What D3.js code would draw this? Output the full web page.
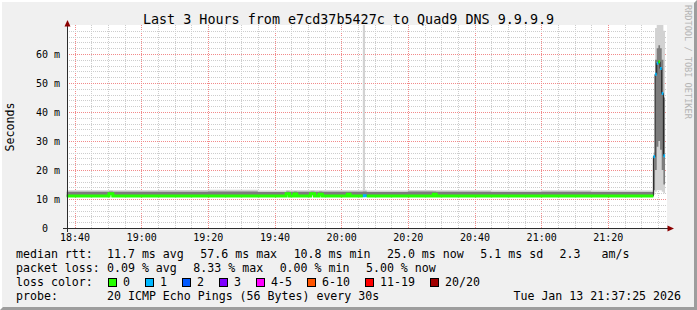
<!DOCTYPE html>
<html>
<head>
<meta charset="utf-8">
<script src="https://cdn.jsdelivr.net/npm/d3@7"></script>
<style>
html, body { margin: 0; padding: 0; background: #f0f0f0; }
svg { display: block; }
text { font-family: "DejaVu Sans Mono", monospace; fill: #000; white-space: pre; }
</style>
</head>
<body>
<div id="chart"></div>
<script>
// each step holds from its time until the next one, the last ends at endTime
const stepTimes = ["18:37:40", "18:50:20", "18:51:30", "19:05:00", "19:20:00", "19:35:00",
    "19:43:30", "19:44:30", "19:45:50", "19:46:40", "19:50:50", "19:52:00", "19:53:20", "19:54:20",
    "20:01:50", "20:02:40", "20:06:30", "20:07:10", "20:07:40", "20:20:00", "20:27:40", "20:28:30",
    "20:45:00", "21:00:00", "21:15:00",
    "21:33:40", "21:34:10", "21:34:40", "21:35:10", "21:35:40", "21:36:10", "21:36:40"];
const endTime = "21:37:10";
const median = [11.0, 11.8, 11.0, 11.0, 11.0, 11.0, 11.8, 11.0, 11.7, 11.0, 11.8, 11.0, 11.6, 11.0,
    11.6, 11.0, 11.1, 11.1, 11.0, 11.0, 11.6, 11.0, 11.0, 11.0, 11.0,
    24.6, 53.0, 56.8, 57.3, 55.0, 46.4, 24.9];
const lossCount = [0, 0, 0, 0, 0, 0, 0, 0, 0, 0, 0, 0, 0, 0,
    0, 0, 1, 1, 0, 0, 0, 0, 0, 0, 0,
    1, 1, 1, 0, 1, 1, 1];
const smokeMin = [10.8, 10.9, 10.8, 10.8, 10.8, 10.8, 10.9, 10.8, 10.9, 10.8, 10.9, 10.8, 10.9, 10.8,
    10.9, 10.8, 10.8, 10.8, 10.8, 10.8, 10.9, 10.8, 10.8, 10.8, 10.8,
    11.5, 12.5, 13.0, 13.0, 13.0, 12.5, 12.0];
const smokeLo = [11.2, 11.4, 11.2, 11.2, 11.2, 11.2, 11.4, 11.2, 11.3, 11.2, 11.4, 11.2, 11.3, 11.2,
    11.3, 11.2, 11.2, 11.2, 11.2, 11.2, 11.3, 11.2, 11.2, 11.2, 11.2,
    13.0, 20.0, 28.0, 30.0, 27.0, 20.0, 15.0];
const smokeHi = [12.5, 12.6, 12.5, 12.5, 12.6, 12.4, 12.6, 12.5, 12.6, 12.5, 12.6, 12.5, 12.6, 12.5,
    12.5, 12.5, 12.6, 12.6, 12.4, 12.6, 12.6, 12.5, 12.4, 12.5, 12.4,
    24.8, 58.0, 62.0, 63.0, 62.0, 58.0, 45.0];
const smokeMax = [13.0, 13.1, 13.0, 13.1, 13.2, 12.9, 13.1, 13.0, 13.0, 13.0, 13.1, 13.0, 13.0, 13.0,
    13.0, 13.0, 70, 13.2, 12.9, 13.1, 13.0, 13.0, 12.9, 13.0, 12.9,
    26.0, 69.0, 70, 70, 70, 70, 68.0];

const lossLabels = ["0", "1", "2", "3", "4-5", "6-10", "11-19", "20/20"];
const lossUpper = [0, 1, 2, 3, 5, 10, 19, 20];
const lossColors = ["#26ff00", "#00b8ff", "#0059ff", "#7e00ff", "#ff00ff", "#ff5500", "#ff0000", "#a10000"];
const yTicks = [0, 10, 20, 30, 40, 50, 60];
const rttStats = [11.7, 57.6, 10.8, 25.0];
const lossStats = [0.09, 8.33, 0.00, 5.00];
const statNames = ["avg", "max", "min", "now"];
const rttSd = 5.1;
const rttAms = 2.3;

const W = 697, H = 310;
const parseT = d3.timeParse("%H:%M:%S");
const x = d3.scaleTime().domain([parseT("18:37:45"), parseT("21:37:45")]).range([67, 667]);
const y = d3.scaleLinear().domain([0, 70]).range([228, 25]).clamp(true);

const svg = d3.select("#chart").append("svg").attr("width", W).attr("height", H);

// background + 3d frame
svg.append("rect").attr("width", W).attr("height", H).attr("fill", "#f0f0f0");
svg.append("path").attr("d", "M0,0H697L695,2H2V308L0,310Z").attr("fill", "#ffffff");
svg.append("path").attr("d", "M697,0V310H0L3,307H694V3Z").attr("fill", "#9d9d9d");

// canvas
svg.append("rect").attr("x", 67).attr("y", 25).attr("width", 600).attr("height", 203).attr("fill", "#fff");

const grid = svg.append("g").attr("stroke-dasharray", "1,1").attr("stroke-width", 1).attr("fill", "none");
const px = v => Math.round(v) + 0.5;
x.ticks(d3.timeMinute.every(5)).forEach(t => {
    const major = t.getMinutes() % 20 === 0;
    grid.append("line")
        .attr("x1", px(x(t))).attr("x2", px(x(t)))
        .attr("y1", 25).attr("y2", 228)
        .attr("stroke", major ? "#f28a8a" : "#cdcdcd");
});
d3.range(2, 70, 2).forEach(v => {
    const major = v % 10 === 0;
    grid.append("line")
        .attr("x1", 67).attr("x2", 667)
        .attr("y1", px(y(v))).attr("y2", px(y(v)))
        .attr("stroke", major ? "#f28a8a" : "#cdcdcd");
});

// smoke + median
const rows = stepTimes.map((s, i) => ({
    t0: parseT(s),
    t1: parseT(i < stepTimes.length - 1 ? stepTimes[i + 1] : endTime),
    med: median[i], loss: lossCount[i],
    mn: smokeMin[i], lo: smokeLo[i], hi: smokeHi[i], mx: smokeMax[i]
}));
const stepPts = rs => rs.flatMap(r => [{t: r.t0, r: r}, {t: r.t1, r: r}]);
const pts = stepPts(rows);

svg.append("path")
    .attr("d", d3.area().x(d => x(d.t)).y0(d => y(d.r.mn)).y1(d => y(d.r.mx))(pts))
    .attr("fill", "#d2d2d2");
svg.append("path")
    .attr("d", d3.area().x(d => x(d.t)).y0(d => y(d.r.lo)).y1(d => y(d.r.hi))(pts))
    .attr("fill", "#7c7c7c");

const medLine = d3.line().x(d => x(d.t)).y(d => y(d.r.med));
svg.append("path").attr("d", medLine(pts))
    .attr("fill", "none").attr("stroke", "#1e1e1e").attr("stroke-width", 1);

function lossClass(n) {
    return lossUpper.findIndex(b => n <= b);
}
// colored median: one flat piece per step, green runs kept joined
const runs = [];
rows.forEach(r => {
    const c = lossClass(r.loss);
    const last = runs[runs.length - 1];
    if (c === 0 && last && last.c === 0) last.rows.push(r);
    else runs.push({c: c, rows: [r]});
});
svg.append("g").selectAll("path")
    .data(runs)
    .enter().append("path")
    .attr("d", d => medLine(stepPts(d.rows)))
    .attr("fill", "none")
    .attr("stroke", d => lossColors[d.c])
    .attr("stroke-width", 3);

// axes
svg.append("line").attr("x1", 63).attr("x2", 669).attr("y1", 228.5).attr("y2", 228.5)
    .attr("stroke", "#2c2c2c").attr("stroke-width", 1);
svg.append("line").attr("x1", 67.5).attr("x2", 67.5).attr("y1", 232).attr("y2", 23)
    .attr("stroke", "#2c2c2c").attr("stroke-width", 1);
svg.append("path").attr("d", "M67.5,20L64.5,26.5L70.5,26.5Z").attr("fill", "#8b0000");
svg.append("path").attr("d", "M674,228.5L667.5,225.5L667.5,231.5Z").attr("fill", "#8b0000");

svg.append("g").selectAll("text")
    .data(yTicks)
    .enter().append("text")
    .attr("x", 60)
    .attr("y", d => y(d) + 3.5)
    .attr("text-anchor", "end")
    .attr("font-size", "10px")
    .attr("xml:space", "preserve")
    .text(d => d === 0 ? "0  " : d + " m");

svg.append("g").selectAll("text")
    .data(x.ticks(d3.timeMinute.every(20)))
    .enter().append("text")
    .attr("x", d => x(d) + 0.5)
    .attr("y", 241)
    .attr("text-anchor", "middle")
    .attr("font-size", "10px")
    .text(d3.timeFormat("%H:%M"));

svg.append("text")
    .attr("transform", "translate(14,127) rotate(-90)")
    .attr("text-anchor", "middle")
    .attr("font-size", "11.6px")
    .text("Seconds");

svg.append("text")
    .attr("x", 348.5).attr("y", 24)
    .attr("text-anchor", "middle")
    .attr("font-size", "13.4px")
    .text("Last 3 Hours from e7cd37b5427c to Quad9 DNS 9.9.9.9");

svg.append("text")
    .attr("transform", "translate(685,5) rotate(90)")
    .attr("font-size", "8.6px")
    .style("fill", "#b4b4b4")
    .text("RRDTOOL / TOBI OETIKER");

// legend
const cw = 7, gap = 9.33, lx = 16;
const rowY = [258, 272, 286, 300];
const leg = svg.append("g").attr("font-size", "11.6px");
function legendRow(ry, label, items) {
    leg.append("text").attr("x", lx).attr("y", ry).text(label);
    let cx = lx + 12 * cw;
    items.forEach(s => {
        leg.append("text").attr("x", cx).attr("y", ry).attr("xml:space", "preserve").text(s);
        cx += s.length * cw + gap;
    });
}
const f51 = d3.format("5.1f"), f41 = d3.format("4.1f"), f52 = d3.format("5.2f");
legendRow(rowY[0], "median rtt:",
    rttStats.map((v, i) => f51(v) + " ms " + statNames[i])
        .concat([f41(rttSd) + " ms sd", f41(rttAms) + "   am/s"]));
legendRow(rowY[1], "packet loss:",
    lossStats.map((v, i) => f52(v) + " % " + statNames[i]));

leg.append("text").attr("x", lx).attr("y", rowY[2]).text("loss color:");
let bx = 108;
lossLabels.forEach((l, i) => {
    leg.append("rect")
        .attr("x", bx + 0.5).attr("y", 278.5)
        .attr("width", 8).attr("height", 8)
        .attr("fill", lossColors[i]).attr("stroke", "#000").attr("stroke-width", 1);
    leg.append("text").attr("x", bx + 15).attr("y", rowY[2]).text(l);
    bx += 15 + l.length * cw + 15;
});

leg.append("text").attr("x", lx).attr("y", rowY[3]).text("probe:");
leg.append("text").attr("x", lx + 13 * cw).attr("y", rowY[3])
    .text("20 ICMP Echo Pings (56 Bytes) every 30s");
leg.append("text").attr("x", 681).attr("y", rowY[3]).attr("text-anchor", "end")
    .text("Tue Jan 13 21:37:25 2026");
</script>
</body>
</html>
